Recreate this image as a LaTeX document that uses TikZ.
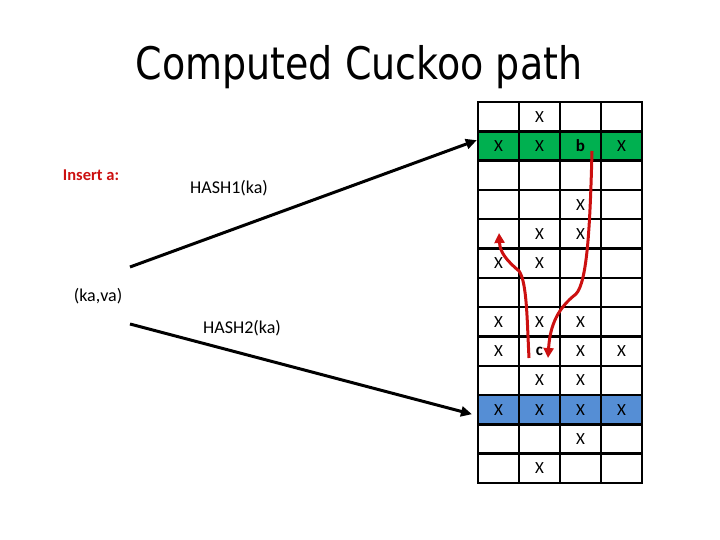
\documentclass[tikz,border=0pt]{standalone}
\usepackage{fontspec}
\setmainfont{Carlito}
\newfontfamily\titlefont{DejaVu Sans}
\usetikzlibrary{arrows.meta}
\definecolor{slotgreen}{RGB}{0,176,80}
\definecolor{slotblue}{RGB}{85,142,213}
\definecolor{pathred}{RGB}{204,16,16}
\begin{document}
\begin{tikzpicture}[x=1pt,y=-1pt,
	cell/.style={draw=black,line width=2.4pt,minimum width=41pt,minimum height=29.3pt,inner sep=0pt},
	slot/.style={font=\fontsize{17}{17}\selectfont,inner sep=0pt},
	hasharrow/.style={line width=3pt,-{Triangle[length=11pt,width=10pt]}},
	cuckoo/.style={draw=pathred,line width=3pt,-{Triangle[length=10pt,width=10pt]}},
	label/.style={font=\fontsize{18}{18}\selectfont,inner sep=0pt}]
	\useasboundingbox (0,0) rectangle (720,540);
	\node[inner sep=0pt,font=\titlefont\fontsize{38}{38}\selectfont,yscale=1.18,xscale=1] (title) at (359,67) {Computed Cuckoo path};
	% the table: 13 buckets of 4 slots
	\foreach \r in {0,...,12}
		\foreach \c in {0,...,3}
			\node[cell] (c-\r-\c) at (498.5+41*\c, 116.7+29.3*\r) {};
	\foreach \c in {0,...,3} {
		\node[cell,fill=slotgreen] (c-1-\c) at (498.5+41*\c, 146) {};
		\node[cell,fill=slotblue] (c-10-\c) at (498.5+41*\c, 409.7) {};
	}
	\foreach \r/\c/\t in {0/1/X, 1/0/X, 1/1/X, 1/2/\textbf{b}, 1/3/X, 3/2/X, 4/1/X, 4/2/X, 5/0/X, 5/1/X,
		7/0/X, 7/1/X, 7/2/X, 8/0/X, 8/1/\textbf{c}, 8/2/X, 8/3/X, 9/1/X, 9/2/X,
		10/0/X, 10/1/X, 10/2/X, 10/3/X, 11/2/X, 12/1/X}
		\node[slot] at (c-\r-\c) {\t};
	% key and hash labels
	\node[label,font=\bfseries\fontsize{16.5}{16.5}\selectfont,text=pathred] (insert) at (91,175) {Insert a:};
	\node[label] (h1) at (229,188) {HASH1(ka)};
	\node[label] (kv) at (98,296) {(ka,va)};
	\node[label] (h2) at (242,328) {HASH2(ka)};
	\coordinate (kv1) at (130,267);
	\coordinate (kv2) at (130,324);
	\draw[hasharrow] (kv1) -- (c-1-0.165);
	\draw[hasharrow,shorten >=5pt] (kv2) -- (c-10-0.195);
	% cuckoo moves
	\coordinate (bout) at (592,151);
	\coordinate (cin) at (548,358);
	\coordinate (cout) at (529,358);
	\coordinate (aup) at (499,233);
	\draw[cuckoo] (bout) .. controls (590,230) and (587,282) .. (576,294)
		.. controls (558,308) and (550,325) .. (cin);
	\draw[cuckoo] (cout) .. controls (527,320) and (527,282) .. (519,271)
		.. controls (506,260) and (500,252) .. (aup);
\end{tikzpicture}
\end{document}
